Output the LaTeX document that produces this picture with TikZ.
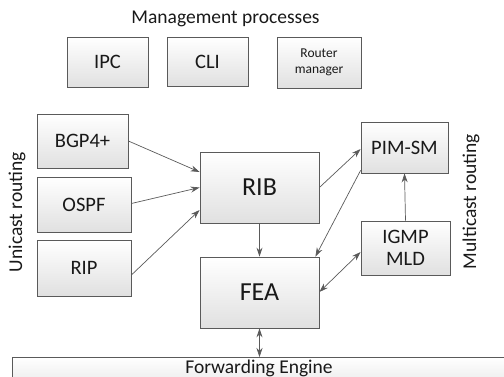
\documentclass[tikz,border=0pt]{standalone}
\usepackage{fontspec}
\setmainfont{Carlito}
\usetikzlibrary{calc,arrows.meta,shadows}
\definecolor{edgecol}{RGB}{90,90,90}
\definecolor{txtcol}{RGB}{25,25,25}
\tikzset{
  box/.style={draw=edgecol, line width=0.8pt, top color=white, bottom color=black!12,
    drop shadow={shadow xshift=1pt, shadow yshift=-1pt, opacity=0.25},
    inner sep=0pt, align=center, text=txtcol},
  conn/.style={draw=edgecol, line width=0.7pt, -{Stealth[length=9pt,width=6pt]}},
  conn2/.style={draw=edgecol, line width=0.7pt, {Stealth[length=9pt,width=6pt]}-{Stealth[length=9pt,width=6pt]}},
  midf/.style={font=\fontsize{20.5}{22}\selectfont},
  bigf/.style={font=\fontsize{26}{28}\selectfont},
  lblf/.style={font=\fontsize{19.5}{21}\selectfont, text=txtcol},
}
\begin{document}
\begin{tikzpicture}[x=1pt,y=-1pt]
\useasboundingbox (0,0) rectangle (504,376);
\node[lblf] (title) at (225.5,19) {Management processes};
\node[box,midf,minimum width=81pt,minimum height=50pt] (ipc) at (107.5,62) {IPC};
\node[box,midf,minimum width=81pt,minimum height=49pt] (cli) at (207.5,61.5) {CLI};
\node[box,font=\fontsize{13.5}{16}\selectfont,minimum width=84pt,minimum height=51pt] (rm) at (319,62.5) {Router\\manager};
\node[box,midf,minimum width=91pt,minimum height=54pt] (bgp) at (82.5,141) {BGP4+};
\node[box,midf,minimum width=94pt,minimum height=55pt] (ospf) at (84,204.5) {OSPF};
\node[box,midf,minimum width=94pt,minimum height=56pt] (rip) at (84,268) {RIP};
\node[box,bigf,minimum width=119pt,minimum height=71pt] (rib) at (259.5,187.5) {RIB};
\node[box,bigf,minimum width=119pt,minimum height=71pt] (fea) at (259.5,292.5) {FEA};
\node[box,midf,minimum width=87pt,minimum height=51pt] (pim) at (404.5,147.5) {PIM-SM};
\node[box,midf,minimum width=89pt,minimum height=54pt] (igmp) at (405.5,248) {IGMP\\MLD};
\node[box,anchor=north west,minimum width=520pt,minimum height=40pt] (fe) at (12,357) {};
\node[lblf] (fetxt) at (259,368) {Forwarding Engine};
\node[lblf,rotate=90] (uni) at (17,212) {Unicast routing};
\node[lblf,rotate=90] (multi) at (471,201.5) {Multicast routing};
\draw[conn] (bgp.east) -- ($(rib.west)+(0,-15.5)$);
\draw[conn] ($(ospf.east)+(0,-1)$) -- (rib.west);
\draw[conn] ($(rip.east)+(0,7)$) -- ($(rib.west)+(0,22.5)$);
\draw[conn] (rib.south) -- (fea.north);
\draw[conn] (rib.east) -- ($(pim.west)+(0,1.5)$);
\draw[conn] ($(pim.south west)+(0,-3)$) -- ($(fea.north east)+(-4,0)$);
\draw[conn] (igmp.north) -- (pim.south);
\draw[conn2] ($(fea.east)+(0,-0.5)$) -- ($(igmp.west)+(0,4)$);
\draw[conn2] (fea.south) -- (fea.south |- fe.north);
\end{tikzpicture}
\end{document}
